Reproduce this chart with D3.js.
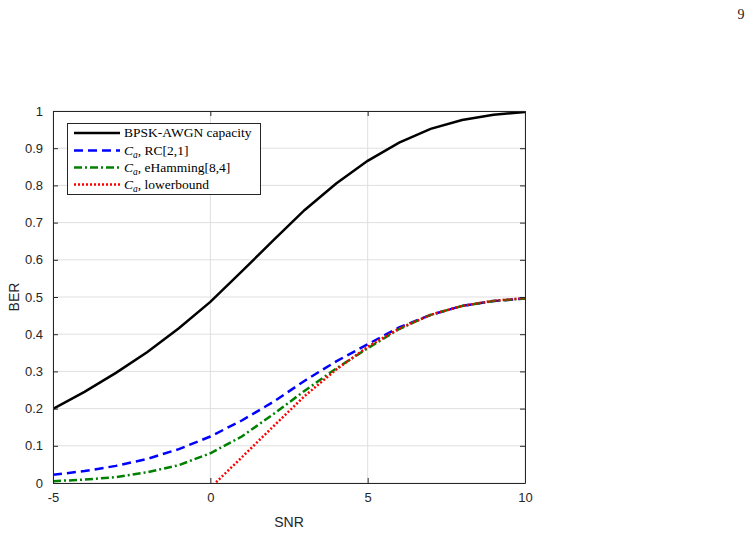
<!DOCTYPE html>
<html>
<head>
<meta charset="utf-8">
<script src="https://cdn.jsdelivr.net/npm/d3@7"></script>
<style>
  body { margin: 0; background: #fff; }
  svg { display: block; }
</style>
</head>
<body>
<script>
// SNR grid (dB)
var snr = [-5, -4, -3, -2, -1, 0, 1, 2, 3, 4, 5, 6, 7, 8, 9, 10];
var capacity = [0.199, 0.245, 0.296, 0.352, 0.416, 0.487, 0.569, 0.652, 0.734, 0.805, 0.866, 0.915, 0.952, 0.976, 0.990, 0.997];
var rc21     = [0.022, 0.032, 0.046, 0.065, 0.091, 0.125, 0.168, 0.218, 0.275, 0.327, 0.373, 0.418, 0.452, 0.476, 0.489, 0.496];
var eHamming = [0.005, 0.009, 0.016, 0.029, 0.048, 0.080, 0.125, 0.185, 0.248, 0.308, 0.362, 0.414, 0.452, 0.476, 0.489, 0.496];
var lbSnr    = [0, 1, 2, 3, 4, 5, 6, 7, 8, 9, 10];
var lowerbound = [-0.013, 0.069, 0.152, 0.234, 0.305, 0.366, 0.415, 0.452, 0.476, 0.490, 0.497];

var xTicks = [-5, 0, 5, 10];
var yTicks = [0, 0.1, 0.2, 0.3, 0.4, 0.5, 0.6, 0.7, 0.8, 0.9, 1];

var W = 752, H = 533;
var m = {left: 53, right: 525, top: 111, bottom: 483};
var axisCol = "#262626";

var svg = d3.select("body").append("svg")
    .attr("width", W)
    .attr("height", H);

// page number
svg.append("text")
    .attr("x", 741).attr("y", 19)
    .attr("text-anchor", "middle")
    .style("font-family", "'Liberation Serif', 'DejaVu Serif', serif")
    .style("font-size", "14px")
    .attr("fill", "#222")
    .text("9");

var x = d3.scaleLinear().domain([-5, 10]).range([m.left, m.right]);
var y = d3.scaleLinear().domain([0, 1]).range([m.bottom, m.top]);

// grid
svg.append("g").selectAll("line.gx")
    .data(xTicks).enter().append("line")
    .attr("x1", d => x(d)).attr("x2", d => x(d))
    .attr("y1", m.top).attr("y2", m.bottom)
    .attr("stroke", "#dfdfdf").attr("stroke-width", 1);
svg.append("g").selectAll("line.gy")
    .data(yTicks).enter().append("line")
    .attr("x1", m.left).attr("x2", m.right)
    .attr("y1", d => y(d)).attr("y2", d => y(d))
    .attr("stroke", "#dfdfdf").attr("stroke-width", 1);

// clip for curves
svg.append("clipPath").attr("id", "plotclip")
    .append("rect")
    .attr("x", m.left).attr("y", m.top)
    .attr("width", m.right - m.left).attr("height", m.bottom - m.top);

var line = d3.line()
    .x(d => x(d[0]))
    .y(d => y(d[1]));

var series = [
    {xs: snr, ys: capacity, color: "#000000", dash: null, label: "BPSK-AWGN capacity"},
    {xs: snr, ys: rc21, color: "#0000ff", dash: "9,5", label: "RC[2,1]"},
    {xs: snr, ys: eHamming, color: "#008000", dash: "8,3,2,3", label: "eHamming[8,4]"},
    {xs: lbSnr, ys: lowerbound, color: "#ff0000", dash: "2,2", label: "lowerbound"}
];

var curves = svg.append("g").attr("clip-path", "url(#plotclip)");
series.forEach(function(s) {
    curves.append("path")
        .datum(s.xs.map((v, i) => [v, s.ys[i]]))
        .attr("d", line)
        .attr("fill", "none")
        .attr("stroke", s.color)
        .attr("stroke-width", 2.5)
        .attr("stroke-dasharray", s.dash);
});

// axes, MATLAB style: ticks inside, box on
var fmt = d => String(d);   // plain hyphen for negatives, like the original
var xAxis = d3.axisBottom(x).tickValues(xTicks).tickSizeInner(-5).tickSizeOuter(0).tickPadding(10).tickFormat(fmt);
var yAxis = d3.axisLeft(y).tickValues(yTicks).tickSizeInner(-5).tickSizeOuter(0).tickPadding(10).tickFormat(fmt);
var xTop = d3.axisTop(x).tickValues(xTicks).tickSizeInner(-5).tickSizeOuter(0).tickFormat("");
var yRight = d3.axisRight(y).tickValues(yTicks).tickSizeInner(-5).tickSizeOuter(0).tickFormat("");

function styleAxis(g) {
    g.selectAll("path").attr("stroke", axisCol).attr("stroke-width", 1);
    g.selectAll("line").attr("stroke", axisCol);
    g.selectAll("text")
        .attr("fill", axisCol)
        .style("font-family", "'Liberation Sans', Arial, sans-serif")
        .style("font-size", "13px");
}

svg.append("g").attr("transform", "translate(0," + m.bottom + ")").call(xAxis).call(styleAxis);
svg.append("g").attr("transform", "translate(" + m.left + ",0)").call(yAxis).call(styleAxis);
svg.append("g").attr("transform", "translate(0," + m.top + ")").call(xTop).call(styleAxis);
svg.append("g").attr("transform", "translate(" + m.right + ",0)").call(yRight).call(styleAxis);

// axis titles
svg.append("text")
    .attr("x", (m.left + m.right) / 2).attr("y", 527)
    .attr("text-anchor", "middle")
    .attr("fill", axisCol)
    .style("font-family", "'Liberation Sans', Arial, sans-serif")
    .style("font-size", "14px")
    .text("SNR");
svg.append("text")
    .attr("transform", "translate(19," + (m.top + m.bottom) / 2 + ") rotate(-90)")
    .attr("text-anchor", "middle")
    .attr("fill", axisCol)
    .style("font-family", "'Liberation Sans', Arial, sans-serif")
    .style("font-size", "14px")
    .text("BER");

// legend
var lg = svg.append("g");
lg.append("rect")
    .attr("x", 67.5).attr("y", 123.5)
    .attr("width", 193).attr("height", 71)
    .attr("fill", "#fff")
    .attr("stroke", axisCol).attr("stroke-width", 1);

var rowY = [133, 150.5, 167.5, 184.5];
series.forEach(function(s, i) {
    lg.append("line")
        .attr("x1", 74).attr("x2", 120)
        .attr("y1", rowY[i]).attr("y2", rowY[i])
        .attr("stroke", s.color)
        .attr("stroke-width", 2.5)
        .attr("stroke-dasharray", s.dash);
    var t = lg.append("text")
        .attr("x", 124).attr("y", rowY[i] + 4)
        .attr("fill", "#000")
        .style("font-family", "'Liberation Serif', 'DejaVu Serif', serif")
        .style("font-size", "13.5px");
    if (i === 0) {
        t.text(s.label);
    } else {
        t.append("tspan").style("font-style", "italic").text("C");
        t.append("tspan").attr("dy", 3).style("font-style", "italic").style("font-size", "9.5px").text("a");
        t.append("tspan").attr("dy", -3).text(", " + s.label);
    }
});
</script>
</body>
</html>
